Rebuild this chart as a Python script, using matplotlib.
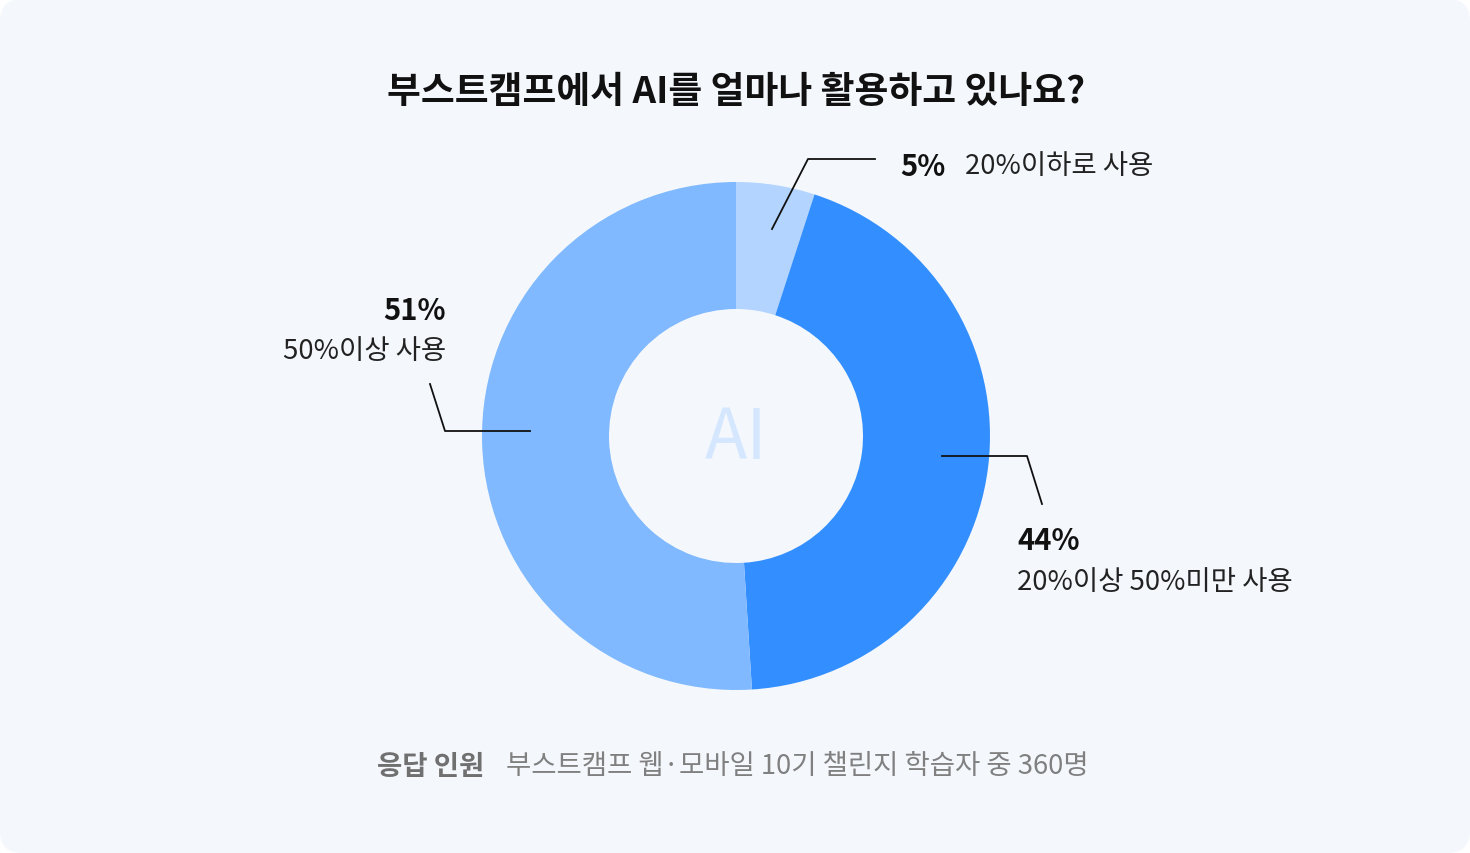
import matplotlib.pyplot as plt
from matplotlib.patches import FancyBboxPatch

plt.rcParams['font.family'] = ['Noto Sans CJK KR', 'DejaVu Sans']

# 데이터
labels = ['20%이하로 사용', '20%이상 50%미만 사용', '50%이상 사용']
values = [5, 44, 51]
pct_text = ['5%', '44%', '51%']
colors = ['#B3D4FF', '#338FFF', '#80B9FF']

title = '부스트캠프에서 AI를 얼마나 활용하고 있나요?'
note_head = '응답 인원'
note_body = '부스트캠프 웹·모바일 10기 챌린지 학습자 중 360명'

W, H = 1470, 854
fig = plt.figure(figsize=(W / 100, H / 100), dpi=100, facecolor='white')
ax = fig.add_axes([0, 0, 1, 1])

# 둥근 배경
bg = FancyBboxPatch((0, 0), W, H, boxstyle='round,pad=0,rounding_size=22',
                    facecolor='#F4F8FD', edgecolor='none', zorder=0)
ax.add_patch(bg)

# 도넛 차트
cx, cy, r = 736, H - 437, 254
ax.pie(values, colors=colors, startangle=90, counterclock=False,
       center=(cx, cy), radius=r, frame=True,
       wedgeprops=dict(width=127, edgecolor='none'))
ax.set_xlim(0, W)
ax.set_ylim(0, H)
ax.set_aspect('equal')
ax.axis('off')

ax.text(cx, cy + 6, 'AI', ha='center', va='center_baseline', fontsize=50,
        color='#D5E7FF', zorder=5)

# 제목
ax.text(736, H - 88, title, ha='center', va='center_baseline', fontsize=26.5,
        fontweight='bold', color='#111111')

# 지시선
line_kw = dict(color='#111111', lw=1.3, zorder=6)
ax.plot([772, 808, 875], [H - 230, H - 160, H - 160], **line_kw)
ax.plot([530, 445, 430], [H - 432, H - 432, H - 385], **line_kw)
ax.plot([942, 1027, 1042], [H - 457, H - 457, H - 505], **line_kw)

# 라벨
big, small = 21, 19.8
ax.text(900, H - 164, pct_text[0], ha='left', va='center_baseline', fontsize=big,
        fontweight='bold', color='#111111')
ax.text(965, H - 164, labels[0], ha='left', va='center_baseline', fontsize=small,
        color='#222222')

ax.text(446, H - 308, pct_text[2], ha='right', va='center_baseline', fontsize=big,
        fontweight='bold', color='#111111')
ax.text(446, H - 349, labels[2], ha='right', va='center_baseline', fontsize=small,
        color='#222222')

ax.text(1017, H - 538, pct_text[1], ha='left', va='center_baseline', fontsize=big,
        fontweight='bold', color='#111111')
ax.text(1017, H - 579, labels[1], ha='left', va='center_baseline', fontsize=small,
        color='#222222')

# 응답 인원
ax.text(377, H - 764, note_head, ha='left', va='center_baseline', fontsize=small,
        fontweight='bold', color='#707070')
ax.text(506, H - 764, note_body, ha='left', va='center_baseline', fontsize=small,
        color='#808080')

fig.savefig('out.png', dpi=100, facecolor='white')
